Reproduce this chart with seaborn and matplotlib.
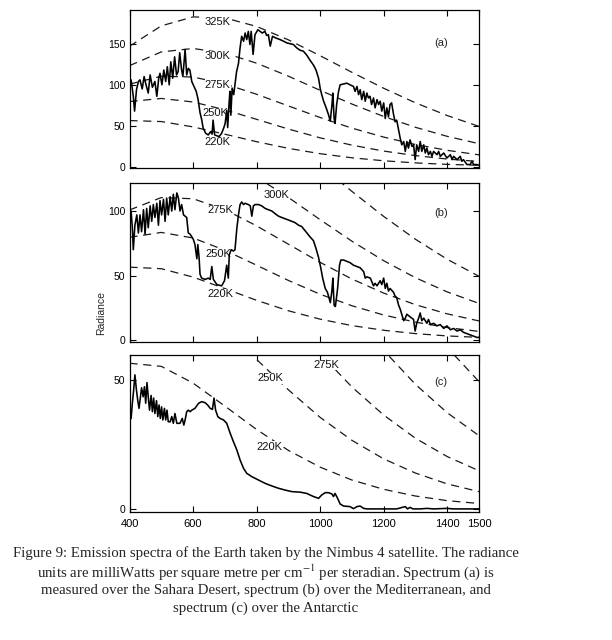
import matplotlib
matplotlib.use("Agg")
import matplotlib.pyplot as plt
import seaborn as sns
import pandas as pd

# ---------------- data ----------------
# dashed reference curves (black-body radiance), read every 100 cm-1
nu_ref = [400, 500, 600, 700, 800, 900, 1000, 1100, 1200, 1300, 1400, 1500]
bb_220 = [56.5, 55.3, 48.8, 39.9, 30.8, 22.7, 16.2, 11.2, 7.6, 5.0, 3.2, 2.1]
bb_250 = [79.6, 83.4, 79.1, 69.6, 58.0, 46.2, 35.5, 26.6, 19.4, 13.9, 9.7, 6.7]
bb_275 = [100.8, 110.4, 109.5, 101.1, 88.5, 74.3, 60.2, 47.3, 36.4, 27.4, 20.3, 14.8]
bb_300 = [123.3, 140.0, 144.2, 138.6, 126.3, 110.5, 93.3, 76.6, 61.5, 48.3, 37.3, 28.4]
bb_325 = [146.9, 171.7, 182.6, 181.4, 171.0, 154.7, 135.4, 115.2, 95.8, 78.1, 62.6, 49.4]

# spectrum (a) Sahara
nu_a = [400, 405, 412, 416, 422, 428, 433, 440, 446, 452, 459, 465, 472, 480, 486,
        492, 496, 502, 508, 514, 519, 525, 530, 536, 542, 548, 553, 558, 564, 568,
        575, 580, 585, 590, 596, 603, 610, 616, 622, 627, 632, 640, 648, 655, 660,
        663, 668, 675, 682, 690, 697, 701, 706, 709, 713, 716, 719, 723, 728, 732,
        737, 743, 748, 753, 759, 764, 769, 774, 779, 783, 789, 795, 804, 811, 818,
        826, 832, 837, 843, 850, 860, 874, 885, 895, 905, 916, 926, 937, 947, 958,
        968, 979, 987, 995, 1000, 1005, 1011, 1019, 1026, 1032, 1037, 1040, 1044, 1047, 1052,
        1058, 1063, 1073, 1084, 1094, 1105, 1110, 1116, 1121, 1126, 1131, 1137, 1142, 1147, 1152,
        1157, 1162, 1168, 1173, 1179, 1184, 1189, 1194, 1200, 1205, 1210, 1215, 1220, 1225, 1231,
        1236, 1241, 1247, 1252, 1257, 1263, 1268, 1273, 1278, 1283, 1289, 1294, 1299, 1304, 1310,
        1315, 1320, 1326, 1331, 1336, 1341, 1347, 1352, 1357, 1368, 1373, 1378, 1389, 1399, 1410,
        1415, 1420, 1431, 1441, 1446, 1451, 1462, 1472, 1478, 1483, 1494, 1500]
rad_a = [100, 106, 86, 68, 94, 104, 106, 95, 110, 100, 90, 112, 97, 104, 86,
         108, 114, 100, 118, 104, 122, 100, 128, 108, 134, 112, 116, 139, 118, 110,
         143, 112, 120, 118, 104, 98, 92, 82, 66, 58, 47, 41, 39, 43, 40,
         57, 39, 38, 37, 41, 48, 53, 69, 48, 75, 92, 63, 96, 88, 100,
         116, 126, 145, 159, 153, 163, 155, 165, 149, 165, 137, 161, 167, 165, 163,
         165, 160, 161, 147, 159, 157, 155, 153, 151, 150, 149, 145, 142, 141, 136,
         130, 124, 118, 108, 96, 88, 80, 72, 64, 56, 75, 90, 59, 53, 76,
         92, 100, 101, 102, 100, 98, 92, 98, 88, 94, 82, 92, 80, 90, 84,
         86, 76, 84, 72, 82, 76, 80, 68, 78, 59, 72, 61, 76, 78, 64,
         55, 57, 45, 35, 27, 31, 19, 31, 23, 33, 25, 27, 9, 27, 19,
         31, 19, 27, 17, 23, 15, 19, 13, 19, 15, 19, 13, 17, 11, 15,
         9, 13, 9, 13, 7, 9, 3, 3, 7, 3, 3, 2]

# spectrum (b) Mediterranean
nu_b = [400, 405, 409, 412, 417, 423, 428, 433, 438, 444, 449, 454, 459, 465, 470,
        475, 480, 486, 491, 496, 501, 507, 512, 517, 522, 528, 533, 538, 543, 549,
        554, 559, 564, 570, 575, 580, 585, 591, 596, 601, 606, 612, 615, 619, 622,
        627, 638, 648, 654, 659, 664, 675, 690, 699, 706, 711, 714, 720, 727, 732,
        738, 743, 748, 753, 759, 764, 774, 780, 785, 790, 795, 806, 816, 827, 837,
        848, 858, 869, 879, 890, 900, 911, 921, 932, 942, 958, 968, 979, 987, 995,
        1002, 1008, 1016, 1023, 1032, 1037, 1040, 1044, 1048, 1055, 1061, 1065, 1074, 1084, 1094,
        1105, 1116, 1126, 1137, 1142, 1147, 1158, 1168, 1173, 1179, 1189, 1194, 1200, 1205, 1210,
        1215, 1220, 1231, 1236, 1241, 1247, 1252, 1257, 1263, 1268, 1273, 1283, 1294, 1299, 1304,
        1310, 1315, 1320, 1326, 1336, 1341, 1347, 1357, 1368, 1378, 1389, 1399, 1410, 1420, 1431,
        1441, 1451, 1462, 1472, 1483, 1494, 1500]
rad_b = [97, 100, 87, 70, 89, 97, 83, 97, 84, 101, 82, 102, 87, 104, 92,
         105, 95, 106, 89, 108, 97, 109, 92, 110, 97, 111, 100, 113, 101, 114,
         110, 100, 105, 97, 96, 95, 83, 82, 80, 78, 74, 63, 74, 64, 51,
         48, 47, 48, 47, 57, 47, 43, 42, 46, 58, 48, 66, 70, 69, 70,
         87, 97, 105, 107, 105, 106, 105, 104, 96, 104, 105, 105, 104, 102, 101,
         100, 98, 96, 95, 94, 93, 92, 91, 89, 88, 83, 80, 77, 71, 64,
         56, 48, 40, 37, 29, 38, 48, 27, 26, 40, 58, 62, 62, 61, 60,
         58, 57, 56, 53, 48, 49, 48, 42, 44, 42, 46, 43, 48, 40, 44,
         38, 40, 37, 34, 33, 27, 24, 20, 15, 17, 20, 18, 16, 7, 13,
         17, 21, 15, 17, 13, 16, 12, 13, 11, 12, 9, 11, 8, 9, 7,
         8, 6, 5, 4, 3, 2, 2]

# spectrum (c) Antarctic
nu_c = [400, 402, 405, 409, 413, 417, 422, 426, 430, 434, 438, 443, 447, 451, 455,
        459, 463, 468, 472, 476, 480, 485, 489, 493, 497, 501, 505, 510, 514, 518,
        522, 528, 533, 538, 543, 549, 559, 566, 571, 575, 580, 585, 591, 596, 606,
        617, 627, 638, 646, 654, 661, 666, 671, 678, 685, 696, 706, 717, 727, 738,
        748, 759, 769, 785, 806, 827, 848, 869, 890, 911, 937, 958, 979, 995, 1005,
        1016, 1026, 1037, 1042, 1047, 1055, 1063, 1074, 1094, 1105, 1116, 1126, 1137, 1147, 1179,
        1210, 1241, 1268, 1275, 1283, 1292, 1315, 1336, 1357, 1399, 1420, 1500]
rad_c = [43, 39, 35, 41, 46, 52, 46, 42, 39, 43, 47, 43.5, 47.4, 41, 49,
         43.5, 38.3, 44, 37.7, 43, 37, 42, 35.8, 40.3, 35.1, 39.6, 34.5, 39, 34.5, 38.3,
         33.8, 33.8, 35.8, 33.2, 37, 33.2, 33.2, 35.1, 32.5, 34.5, 37.7, 38.3, 37.7, 38.3, 39,
         40.9, 41.6, 41.2, 40.3, 39, 38.6, 43, 38.3, 35.8, 35.1, 34.5, 33.2, 29.3, 26.1, 22.8,
         19, 15.7, 13.8, 12.5, 11.2, 9.9, 8.9, 8, 7.3, 6.7, 6.5, 6, 4.8, 4.1, 5.4,
         6.3, 6.3, 5.8, 4.8, 6, 4.1, 1.9, 1.1, 0.9, 0.1, 0.9, 1.1, 0.2, 0, 0,
         0, 0, 0.9, 0, 0.6, 0, 0, 0.2, 0, 0.2, 0, 0]

temps = ["220K", "250K", "275K", "300K", "325K"]
bb_curves = [bb_220, bb_250, bb_275, bb_300, bb_325]

# labels placed on curves: (text, wavenumber, radiance)
labels_a = [("325K", 678, 177), ("300K", 678, 135), ("275K", 678, 100),
            ("250K", 669, 65.5), ("220K", 678, 31)]
labels_b = [("300K", 864, 112.4), ("275K", 685, 100.8), ("250K", 680, 66.7),
            ("220K", 685, 35.7)]
labels_c = [("275K", 1021, 55.8), ("250K", 842, 50.7), ("220K", 842, 24.1)]

panel_tags = ["(a)", "(b)", "(c)"]
x_ticks = [400, 600, 800, 1000, 1200, 1400, 1500]
y_ticks = [[0, 50, 100, 150], [0, 50, 100], [0, 50]]
y_limits = [(-1.2, 191), (-1.5, 121.7), (-1.2, 59.7)]
tag_y = [151, 98.2, 49.3]

caption_lines = [
    "Figure 9: Emission spectra of the Earth taken by the Nimbus 4 satellite. The radiance",
    "units are milliWatts per square metre per cm$^{-1}$ per steradian. Spectrum (a) is",
    "measured over the Sahara Desert, spectrum (b) over the Mediterranean, and",
    "spectrum (c) over the Antarctic",
]

# ---------------- figure ----------------
sns.set_style("white")
plt.rcParams["font.family"] = ["Liberation Sans", "DejaVu Sans"]
plt.rcParams["mathtext.fontset"] = "stix"

fig = plt.figure(figsize=(6.12, 6.4), dpi=100)
W, H = 612.0, 640.0
left, right = 129.5 / W, 479.0 / W
boxes = [(10, 168), (183, 342), (355, 512)]
axes = []
for top, bot in boxes:
    ax = fig.add_axes([left, 1 - bot / H, right - left, (bot - top) / H])
    axes.append(ax)

spectra = [(nu_a, rad_a), (nu_b, rad_b), (nu_c, rad_c)]
all_labels = [labels_a, labels_b, labels_c]

for i, ax in enumerate(axes):
    for t, curve in zip(temps, bb_curves):
        d = pd.DataFrame({"nu": nu_ref, "rad": curve})
        sns.lineplot(data=d, x="nu", y="rad", ax=ax, color="#1a1a1a", lw=0.9,
                     estimator=None, sort=False, zorder=1)
        ax.lines[-1].set_dashes((6.5, 4.5))
    for txt, xv, yv in all_labels[i]:
        ax.text(xv, yv, txt, ha="center", va="center", fontsize=8, color="#111111",
                zorder=2, bbox=dict(facecolor="white", edgecolor="none", pad=0.2))
    nu, rad = spectra[i]
    d = pd.DataFrame({"nu": nu, "rad": rad})
    sns.lineplot(data=d, x="nu", y="rad", ax=ax, color="black", lw=1.15,
                 estimator=None, sort=False, zorder=3)
    ax.text(1380, tag_y[i], panel_tags[i], ha="center", va="center", fontsize=8,
            color="#222222")
    ax.set_xlim(400, 1500)
    ax.set_ylim(*y_limits[i])
    ax.set_xticks(x_ticks)
    ax.set_yticks(y_ticks[i])
    ax.set_xlabel("")
    ax.set_ylabel("")
    ax.tick_params(direction="in", length=4, width=0.8, top=True, right=True,
                   left=True, bottom=True, labelsize=7.5, pad=3, colors="black")
    ax.tick_params(axis="x", labelsize=8, pad=5)
    if i < 2:
        ax.set_xticklabels([])
    for s in ax.spines.values():
        s.set_color("black")
        s.set_linewidth(0.9)

fig.text(101 / W, 1 - 313 / H, "Radiance", rotation=90, ha="center", va="center",
         fontsize=7.5)

cap_y = [553, 572, 590, 608]
for line, yy in zip(caption_lines, cap_y):
    fig.text(266 / W, 1 - yy / H, line, ha="center", va="center", fontsize=10.7,
             family=["Liberation Serif", "DejaVu Serif"])

fig.savefig("out.png", dpi=100, facecolor="white")
